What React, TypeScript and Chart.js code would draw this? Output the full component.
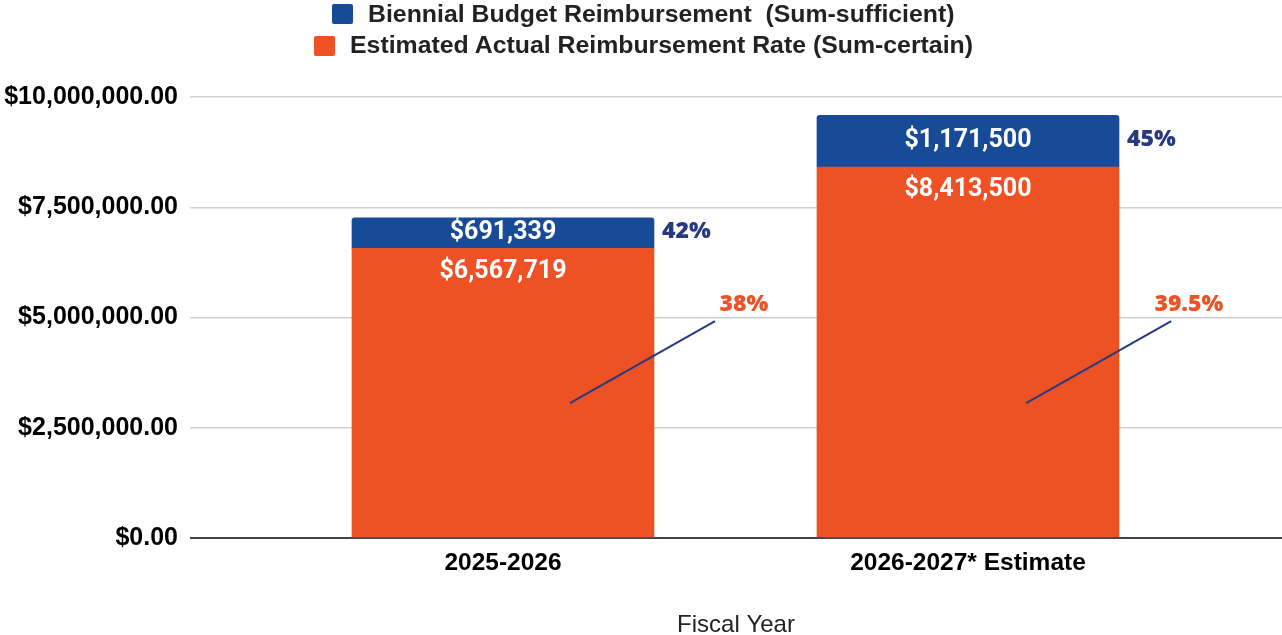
import React, { useEffect, useRef } from 'react';
import { Chart, registerables } from 'chart.js';

Chart.register(...registerables);

// ---- data ----
const categories = ['2025-2026', '2026-2027* Estimate'];
const actualValues = [6567719, 8413500];
const biennialValues = [691339, 1171500];
const biennialPct = ['42%', '45%'];
const actualPct = ['38%', '39.5%'];
const yTickValues = [0, 2500000, 5000000, 7500000, 10000000];
const seriesNames = [
  'Biennial Budget Reimbursement  (Sum-sufficient)',
  'Estimated Actual Reimbursement Rate (Sum-certain)',
];
const axisTitle = 'Fiscal Year';

// callout leader positions (in scale units)
const calloutStartX = [0.144, 0.125];
const calloutEndX = [0.456, 0.437];
const calloutTextX = [0.518, 0.475];
const calloutStartY = 3060000;
const calloutEndY = 4920000;
const calloutTextY = 5290000;

const BLUE = '#174a97';
const ORANGE = '#ee5224';
const NAVY = '#27397f';

const fmtMoney = (v: number) => '$' + v.toLocaleString('en-US');

const labelPlugin = {
  id: 'barLabels',
  afterDatasetsDraw(chart: any) {
    const ctx = chart.ctx;
    const xs = chart.scales.x;
    const ys = chart.scales.y;
    const orangeMeta = chart.getDatasetMeta(0);
    const blueMeta = chart.getDatasetMeta(1);
    ctx.save();
    blueMeta.data.forEach((el: any, i: number) => {
      const p = el.getProps(['x', 'y', 'base', 'width'], true);
      const o = orangeMeta.data[i].getProps(['x', 'y', 'base', 'width'], true);
      const blueMid = (p.y + p.base) / 2 - 0.5;
      ctx.textBaseline = 'middle';
      ctx.textAlign = 'center';
      ctx.fillStyle = '#ffffff';
      ctx.font = 'bold 25px Roboto';
      ctx.fillText(fmtMoney(biennialValues[i]), p.x, blueMid);
      ctx.fillText(fmtMoney(actualValues[i]), o.x, o.y + 23);

      ctx.font = '800 23px "Open Sans"';
      ctx.textAlign = 'left';
      ctx.fillStyle = NAVY;
      ctx.fillText(biennialPct[i], p.x + p.width / 2 + 8, blueMid - 1);

      ctx.strokeStyle = NAVY;
      ctx.lineWidth = 2;
      ctx.beginPath();
      ctx.moveTo(xs.getPixelForValue(i + calloutStartX[i]), ys.getPixelForValue(calloutStartY));
      ctx.lineTo(xs.getPixelForValue(i + calloutEndX[i]), ys.getPixelForValue(calloutEndY));
      ctx.stroke();

      ctx.textAlign = 'center';
      ctx.fillStyle = ORANGE;
      ctx.fillText(actualPct[i], xs.getPixelForValue(i + calloutTextX[i]), ys.getPixelForValue(calloutTextY));
    });
    ctx.restore();
  },
};

export default function App() {
  const ref = useRef<HTMLCanvasElement>(null);

  useEffect(() => {
    if (!ref.current) return;
    const chart = new Chart(ref.current, {
      type: 'bar',
      data: {
        datasets: [
          {
            label: seriesNames[1],
            data: actualValues.map((v, i) => ({ x: i, y: v })),
            backgroundColor: ORANGE,
            barThickness: 302,
            borderWidth: 0,
          },
          {
            label: seriesNames[0],
            data: biennialValues.map((v, i) => ({ x: i, y: v })),
            backgroundColor: BLUE,
            barThickness: 302,
            borderWidth: 0,
            borderSkipped: false,
            borderRadius: { topLeft: 3, topRight: 3, bottomLeft: 0, bottomRight: 0 },
          },
        ],
      },
      options: {
        animation: false,
        responsive: false,
        layout: { padding: { top: 97, right: 0, bottom: 0, left: 0 } },
        plugins: {
          legend: { display: false },
          tooltip: { enabled: false },
        },
        scales: {
          x: {
            type: 'linear',
            stacked: true,
            offset: false,
            min: -0.6731,
            max: 1.6753,
            grid: { display: false, offset: false },
            border: { display: false },
            afterBuildTicks: (s: any) => {
              s.ticks = categories.map((_, i) => ({ value: i }));
            },
            afterFit: (s: any) => {
              s.height = 97;
            },
            ticks: {
              autoSkip: false,
              maxRotation: 0,
              padding: 3,
              color: '#000',
              font: { family: '"Liberation Sans", Arial, sans-serif', size: 24.5, weight: 'bold' },
              callback: (v: any) => categories[v] ?? '',
            },
            title: {
              display: true,
              text: axisTitle,
              color: '#222',
              padding: 0,
              font: { family: '"Liberation Sans", Arial, sans-serif', size: 24, lineHeight: 0.83 },
            },
          },
          y: {
            stacked: true,
            min: 0,
            max: 10000000,
            border: { display: false },
            afterBuildTicks: (s: any) => {
              s.ticks = yTickValues.map((v) => ({ value: v }));
            },
            afterFit: (s: any) => {
              s.width = 190;
            },
            grid: {
              drawTicks: false,
              color: (c: any) => (c.tick && c.tick.value === 0 ? '#444' : '#d0d0d0'),
              lineWidth: (c: any) => (c.tick && c.tick.value === 0 ? 2 : 1.5),
            },
            ticks: {
              padding: 12,
              color: '#000',
              font: { family: '"Liberation Sans", Arial, sans-serif', size: 25, weight: 'bold' },
              callback: (v: any) =>
                '$' + Number(v).toLocaleString('en-US', { minimumFractionDigits: 2, maximumFractionDigits: 2 }),
            },
          },
        },
      },
      plugins: [labelPlugin],
    } as any);
    return () => chart.destroy();
  }, []);

  const legendText: React.CSSProperties = {
    position: 'absolute',
    fontFamily: '"Liberation Sans", Arial, sans-serif',
    fontWeight: 'bold',
    fontSize: 23,
    lineHeight: '24px',
    color: '#222',
    whiteSpace: 'pre',
    transformOrigin: 'left center',
    transform: 'scaleX(1.08)',
  };

  return (
    <div style={{ position: 'absolute', left: 0, top: 0, width: 1282, height: 635, background: '#fff' }}>
      <canvas ref={ref} width={1282} height={635} style={{ position: 'absolute', left: 0, top: 0 }} />
      <div style={{ position: 'absolute', left: 332, top: 4, width: 21, height: 20, background: BLUE, borderRadius: 2 }} />
      <div style={{ ...legendText, left: 368, top: 2 }}>{seriesNames[0]}</div>
      <div style={{ position: 'absolute', left: 314, top: 36, width: 21, height: 20, background: ORANGE, borderRadius: 2 }} />
      <div style={{ ...legendText, left: 350, top: 33 }}>{seriesNames[1]}</div>
    </div>
  );
}
